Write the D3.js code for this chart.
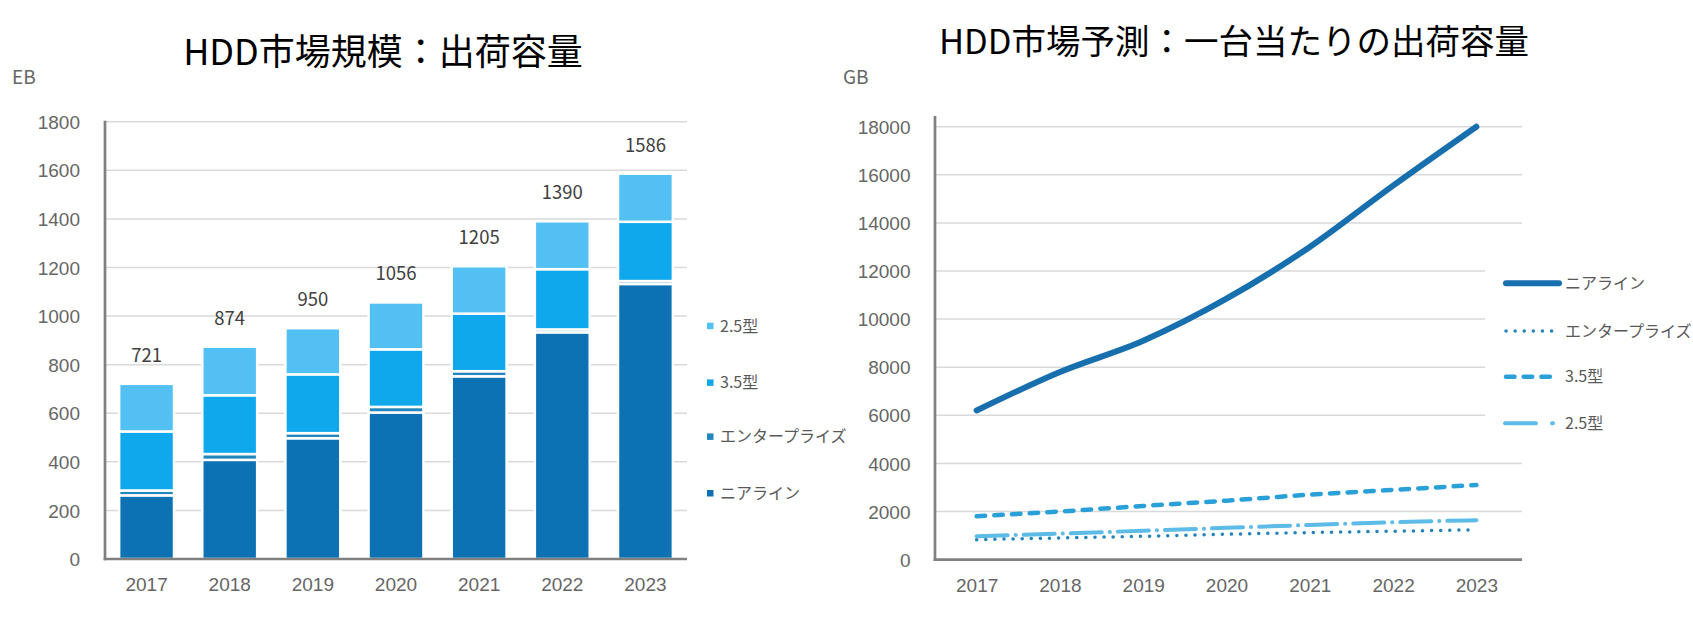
<!DOCTYPE html>
<html lang="ja">
<head>
    <meta charset="UTF-8">
    <title>HDD市場規模</title>
    <script src="https://d3js.org/d3.v7.min.js"></script>
    <style>
        body { margin: 0; background: #fff; }
        svg { font-family: "Noto Sans CJK JP", "Noto Sans", sans-serif; display: block; }
        .tick text { fill: #666; font-size: 19px; }
        .grid line { stroke: #d9d9d9; stroke-width: 1.5; }
        .title { font-size: 34.5px; fill: #000; text-anchor: middle; }
        .unit { font-size: 19px; fill: #666; }
        .total { font-size: 18.5px; fill: #404040; text-anchor: middle; }
        .legend text { font-size: 16px; fill: #595959; }
    </style>
</head>
<body>
    <svg id="chart" width="1693" height="627"></svg>

    <script>
        // Data
        var years = ["2017", "2018", "2019", "2020", "2021", "2022", "2023"];
        var seriesNames = ["ニアライン", "エンタープライズ", "3.5型", "2.5型"];

        // shipped capacity (EB), bottom to top of the stack
        var nearline = [262, 408, 497, 603, 752, 933, 1132];
        var enterprise = [20, 24, 21, 23, 21, 12, 12];
        var type35 = [243, 242, 242, 237, 237, 248, 244];
        var type25 = [196, 200, 190, 193, 195, 197, 198];
        var totals = [721, 874, 950, 1056, 1205, 1390, 1586];

        // capacity per unit (GB)
        var nearlineGB = [6200, 7800, 9100, 10850, 13000, 15550, 18000];
        var enterpriseGB = [830, 900, 970, 1055, 1125, 1180, 1240];
        var type35GB = [1800, 2000, 2230, 2450, 2700, 2900, 3100];
        var type25GB = [970, 1080, 1200, 1320, 1440, 1550, 1640];

        var leftTicks = [0, 200, 400, 600, 800, 1000, 1200, 1400, 1600, 1800];
        var rightTicks = [0, 2000, 4000, 6000, 8000, 10000, 12000, 14000, 16000, 18000];

        var colors = ["#0c72b4", "#2187bd", "#10a8ec", "#53c0f4"];

        var svg = d3.select("#chart");

        // ---------- left chart: stacked bars ----------
        var left = { x0: 105, x1: 687, y0: 559, y1: 121.7 };

        var xL = d3.scaleBand()
            .domain(years)
            .range([left.x0, left.x1])
            .paddingInner(0.34)
            .paddingOuter(0.17);

        var yL = d3.scaleLinear()
            .domain([0, 1800])
            .range([left.y0, left.y1]);

        // gridlines
        svg.append("g")
            .attr("class", "grid")
            .selectAll("line")
            .data(leftTicks.slice(1))
            .enter().append("line")
            .attr("x1", left.x0).attr("x2", left.x1)
            .attr("y1", function (d) { return yL(d); })
            .attr("y2", function (d) { return yL(d); });

        var rows = years.map(function (y, i) {
            return { year: y, s0: nearline[i], s1: enterprise[i], s2: type35[i], s3: type25[i] };
        });
        var stack = d3.stack().keys(["s0", "s1", "s2", "s3"])(rows);

        svg.append("g")
            .selectAll("g")
            .data(stack)
            .enter().append("g")
            .attr("fill", function (d, i) { return colors[i]; })
            .selectAll("rect")
            .data(function (d) { return d; })
            .enter().append("rect")
            .attr("x", function (d) { return xL(d.data.year); })
            .attr("width", xL.bandwidth())
            .attr("y", function (d) { return yL(d[1]); })
            .attr("height", function (d) { return yL(d[0]) - yL(d[1]); })
            .attr("stroke", "#fff")
            .attr("stroke-width", 2.5);

        // totals above bars
        svg.append("g")
            .selectAll("text")
            .data(totals)
            .enter().append("text")
            .attr("class", "total")
            .attr("x", function (d, i) { return xL(years[i]) + xL.bandwidth() / 2; })
            .attr("y", function (d) { return yL(d) - 22; })
            .text(function (d) { return d; });

        // axes
        var axL = svg.append("g")
            .attr("transform", "translate(" + (left.x0 - 25) + ",0)")
            .call(d3.axisLeft(yL).tickValues(leftTicks).tickFormat(d3.format("d"))
                .tickSize(0).tickPadding(0));
        axL.select(".domain").remove();
        axL.selectAll("text").attr("dy", "0.35em");

        var axLB = svg.append("g")
            .attr("transform", "translate(0," + (left.y0 + 32) + ")")
            .call(d3.axisBottom(xL).tickSize(0).tickPadding(0));
        axLB.select(".domain").remove();
        axLB.selectAll("text").attr("dy", 0);

        svg.append("line")
            .attr("x1", left.x0).attr("x2", left.x0)
            .attr("y1", left.y1 - 1).attr("y2", left.y0 + 1.3)
            .attr("stroke", "#808080").attr("stroke-width", 2.7);
        svg.append("line")
            .attr("x1", left.x0 - 1.3).attr("x2", left.x1)
            .attr("y1", left.y0).attr("y2", left.y0)
            .attr("stroke", "#808080").attr("stroke-width", 2.7);

        svg.append("text").attr("class", "title")
            .attr("x", 383).attr("y", 65)
            .style("font-size", "36px")
            .text("HDD市場規模：出荷容量");
        svg.append("text").attr("class", "unit")
            .attr("x", 12).attr("y", 84).text("EB");

        // legend (top to bottom: 2.5型 ... ニアライン)
        var legL = svg.append("g").attr("class", "legend");
        var legRowsL = [326, 382.7, 436.7, 493.3];
        [3, 2, 1, 0].forEach(function (s, k) {
            legL.append("rect")
                .attr("x", 707).attr("y", legRowsL[k] - 3.3)
                .attr("width", 6.5).attr("height", 6.5)
                .attr("fill", colors[s]);
            legL.append("text")
                .attr("x", 720).attr("y", legRowsL[k])
                .attr("dy", "0.35em")
                .text(seriesNames[s]);
        });

        // ---------- right chart: lines ----------
        var right = { x0: 935, x1: 1518, y0: 559.6, y1: 126.7 };

        var xR = d3.scalePoint()
            .domain(years)
            .range([right.x0, right.x1])
            .padding(0.5);

        var yR = d3.scaleLinear()
            .domain([0, 18000])
            .range([right.y0, right.y1]);

        svg.append("g")
            .attr("class", "grid")
            .selectAll("line")
            .data(rightTicks.slice(1))
            .enter().append("line")
            .attr("x1", right.x0).attr("x2", right.x1 + 4)
            .attr("y1", function (d) { return yR(d); })
            .attr("y2", function (d) { return yR(d); });

        var lineGen = d3.line()
            .x(function (d, i) { return xR(years[i]); })
            .y(function (d) { return yR(d); })
            .curve(d3.curveMonotoneX);

        var lineSeries = [
            { values: nearlineGB, color: "#176fae", width: 6, dash: null },
            { values: enterpriseGB, color: "#2585bb", width: 3.5, dash: "0.1,9" },
            { values: type35GB, color: "#29a0d8", width: 4.5, dash: "8.5,9.2" },
            { values: type25GB, color: "#5cbbe7", width: 4, dash: "31,8,0.1,8" }
        ];

        // draw light lines first so the nearline stays on top
        [3, 2, 1, 0].forEach(function (s) {
            var ls = lineSeries[s];
            svg.append("path")
                .datum(ls.values)
                .attr("d", lineGen)
                .attr("fill", "none")
                .attr("stroke", ls.color)
                .attr("stroke-width", ls.width)
                .attr("stroke-linecap", "round")
                .attr("stroke-dasharray", ls.dash);
        });

        var axR = svg.append("g")
            .attr("transform", "translate(" + (right.x0 - 24.5) + ",0)")
            .call(d3.axisLeft(yR).tickValues(rightTicks).tickFormat(d3.format("d"))
                .tickSize(0).tickPadding(0));
        axR.select(".domain").remove();
        axR.selectAll("text").attr("dy", "0.35em");

        var axRB = svg.append("g")
            .attr("transform", "translate(0," + (right.y0 + 32) + ")")
            .call(d3.axisBottom(xR).tickSize(0).tickPadding(0));
        axRB.select(".domain").remove();
        axRB.selectAll("text").attr("dy", 0);

        svg.append("line")
            .attr("x1", right.x0).attr("x2", right.x0)
            .attr("y1", 116).attr("y2", right.y0 + 1.3)
            .attr("stroke", "#808080").attr("stroke-width", 2.7);
        svg.append("line")
            .attr("x1", right.x0 - 1.3).attr("x2", right.x1 + 4)
            .attr("y1", right.y0).attr("y2", right.y0)
            .attr("stroke", "#808080").attr("stroke-width", 2.7);

        svg.append("text").attr("class", "title")
            .attr("x", 1234).attr("y", 54)
            .text("HDD市場予測：一台当たりの出荷容量");
        svg.append("text").attr("class", "unit")
            .attr("x", 843).attr("y", 84).text("GB");

        // legend with white box over the gridlines
        var legR = svg.append("g").attr("class", "legend");
        legR.append("rect")
            .attr("x", 1485).attr("y", 252)
            .attr("width", 208).attr("height", 195)
            .attr("fill", "#fff");
        var legRowsR = [283.3, 331, 376.7, 423.3];
        var legDash = [null, "0.1,9", "8.5,9.2", "31,16"];
        seriesNames.forEach(function (name, s) {
            var ls = lineSeries[s];
            legR.append("line")
                .attr("x1", s === 3 ? 1505 : 1506).attr("x2", s === 0 ? 1559 : 1553)
                .attr("y1", legRowsR[s]).attr("y2", legRowsR[s])
                .attr("stroke", ls.color)
                .attr("stroke-width", ls.width)
                .attr("stroke-linecap", "round")
                .attr("stroke-dasharray", legDash[s]);
            legR.append("text")
                .attr("x", 1565).attr("y", legRowsR[s])
                .attr("dy", "0.35em")
                .text(name);
        });
    </script>
</body>
</html>
